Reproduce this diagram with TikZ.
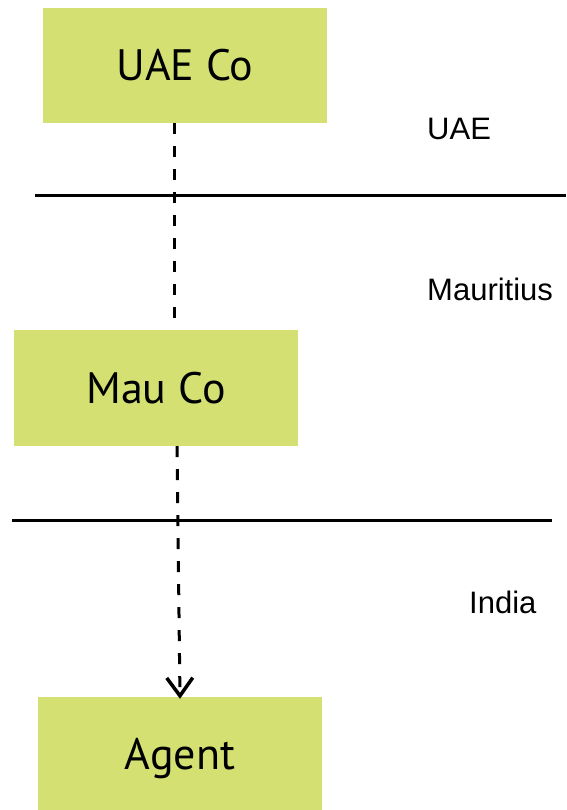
\documentclass[tikz,border=0pt]{standalone}
\usepackage{fontspec}
\setmainfont{Liberation Sans}
\newfontfamily\boxfont{PT Sans}
\usetikzlibrary{arrows.meta}
\definecolor{boxgreen}{RGB}{212,225,114}
\tikzset{
  entity/.style={fill=boxgreen, draw=none, minimum width=284pt, minimum height=115pt,
    inner sep=0pt, text height=31pt, text depth=0pt,
    font=\boxfont\fontsize{44}{50}\selectfont},
  region/.style={anchor=base west, inner sep=0pt, font=\fontsize{31}{36}\selectfont},
  border/.style={line width=3pt},
  link/.style={line width=3pt, dash pattern=on 11pt off 12pt},
}
\begin{document}
\begin{tikzpicture}[x=1pt,y=-1pt]
\useasboundingbox (0,0) rectangle (566,810);
\node[entity] (uae) at (185,65.5) {UAE Co};
\node[entity, minimum height=116pt] (mau) at (156,388) {Mau Co};
\node[entity, minimum height=114pt] (agent) at (180,754) {Agent};
\node[region] (luae) at (427,140) {UAE};
\node[region] (lmau) at (427,300) {Mauritius};
\node[region] (lind) at (469,613) {India};
\coordinate (b1a) at (35,196);
\coordinate (b1b) at (566,196);
\coordinate (b2a) at (12,520);
\coordinate (b2b) at (552,520);
\draw[border] (b1a) -- (b1b);
\draw[border] (b2a) -- (b2b);
\draw[link] ([xshift=-10.5pt]uae.south) -- ([xshift=18.5pt]mau.north);
\draw[link, -{Straight Barb[length=18pt,width=26pt,line width=3.5pt]}] ([xshift=21pt]mau.south) -- ([yshift=-2pt]agent.north);
\end{tikzpicture}
\end{document}
